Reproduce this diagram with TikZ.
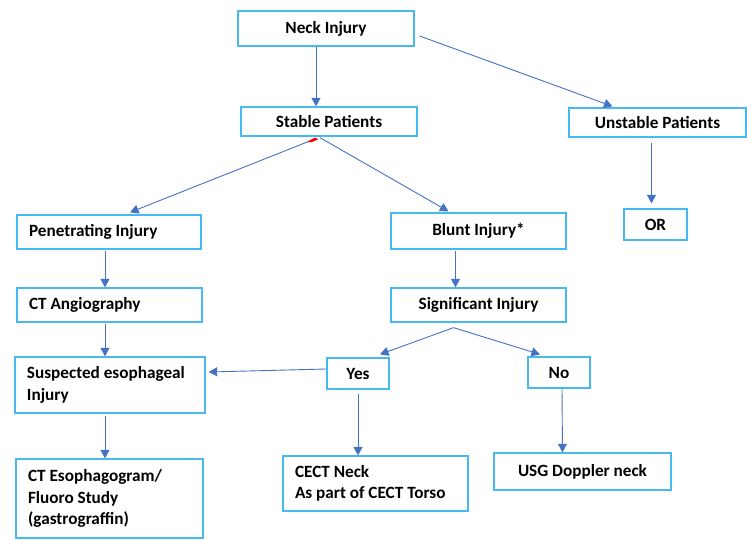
\documentclass[tikz,border=0pt]{standalone}
\usepackage{fontspec}
\setmainfont{Carlito}
\usetikzlibrary{arrows.meta,calc}
\definecolor{boxc}{RGB}{70,185,240}
\definecolor{arrc}{RGB}{68,114,196}
\tikzset{
  box/.style={draw=boxc, line width=1.3pt, fill=white, inner sep=0pt,
    font=\bfseries\fontsize{17.2}{21.5}\selectfont, align=center},
  lbox/.style={box, align=flush left, inner xsep=12pt},
  arr/.style={draw=arrc, line width=0.9pt, -{Triangle[length=8.5pt,width=9pt]}}
}
\begin{document}
\begin{tikzpicture}[x=1pt,y=-1pt]
\useasboundingbox (0,0) rectangle (747,539);
% boxes
\node[box, minimum width=176pt, minimum height=35pt] (neck) at (326,28.5) {Neck Injury};
\node[box, minimum width=176pt, minimum height=29pt] (stable) at (329,121.5) {Stable Patients};
\node[box, minimum width=177pt, minimum height=29pt] (unstable) at (657.5,122.5) {Unstable Patients};
\node[box, minimum width=63pt, minimum height=31pt] (or) at (655.5,224.5) {OR};
\node[box, minimum width=175pt, minimum height=36pt] (blunt) at (478.5,231) {Blunt Injury*};
\node[box, minimum width=175pt, minimum height=34pt] (sig) at (478.5,305) {Significant Injury};
\node[lbox, text width=160pt, minimum width=184pt, minimum height=34pt] (pen) at (109,232) {Penetrating Injury};
\node[lbox, text width=161pt, minimum width=185pt, minimum height=34pt] (ctang) at (109.5,305) {CT Angiography};
\node[lbox, text width=166pt, minimum width=190pt, minimum height=56pt] (susp) at (110,385) {Suspected esophageal\\Injury};
\node[lbox, text width=163pt, minimum width=187pt, minimum height=79pt] (cteso) at (109.5,498.5) {CT Esophagogram/\\Fluoro Study\\(gastrograffin)};
\node[box, minimum width=62pt, minimum height=31pt] (yes) at (358,373.5) {Yes};
\node[box, minimum width=62pt, minimum height=31pt] (no) at (559,372.5) {No};
\node[lbox, text width=161pt, minimum width=185pt, minimum height=55pt] (cect) at (375.5,483.5) {CECT Neck\\As part of CECT Torso};
\node[box, minimum width=177pt, minimum height=37pt] (usg) at (582.5,471.5) {USG Doppler neck};
% connectors
\draw[arr] ($(neck.south)+(-10,0)$) -- ($(stable.north)+(-13,0)$);
\draw[arr] ($(neck.east)+(5,7.5)$) -- ($(unstable.north)+(-45,-1)$);
\draw[arr] ($(stable.south)+(-12,1.5)$) -- ($(pen.north)+(21,-2)$);
\draw[arr] ($(stable.south)+(-9,1)$) -- ($(blunt.north)+(-30,-1)$);
\draw[arr] ($(unstable.south)+(-6,5)$) -- ($(or.north)+(-4,-5)$);
\draw[arr] ($(pen.south)+(-4,1)$) -- ($(ctang.north)+(-4.5,0)$);
\draw[arr] ($(ctang.south)+(-4.5,1)$) -- ($(susp.north)+(-5,0)$);
\draw[arr] ($(susp.south)+(-5,2)$) -- ($(cteso.north)+(-4.5,0)$);
\draw[arr] ($(blunt.south)+(-23,1)$) -- ($(sig.north)+(-23,0)$);
\draw[arr] ($(sig.south)+(-25,5)$) -- ($(yes.north)+(22,-3)$);
\draw[arr] ($(sig.south)+(-25,5)$) -- ($(no.north)+(-19,-2)$);
\draw[arr] ($(yes.west)+(0,-4.5)$) -- ($(susp.east)+(3,-13)$);
\draw[arr] ($(yes.south)+(0,4)$) -- ($(cect.north)+(-17.5,0)$);
\draw[arr] ($(no.south)+(3,0)$) -- ($(usg.north)+(-20,0)$);
% small red mark under Stable Patients
\fill[red] (307,142) -- (315,137.5) -- (318,139.5) -- (312,142) -- cycle;
\end{tikzpicture}
\end{document}
